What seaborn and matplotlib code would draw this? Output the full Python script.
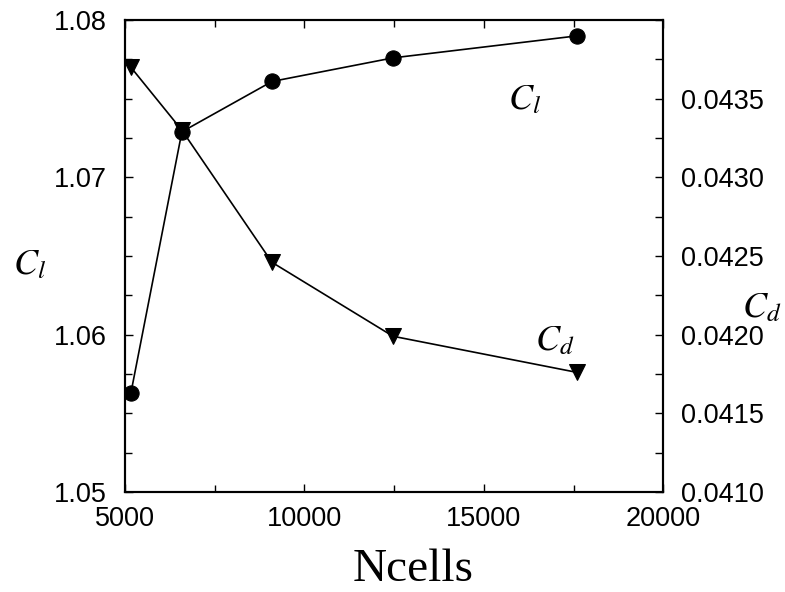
import matplotlib
matplotlib.use("Agg")
import matplotlib.pyplot as plt
import seaborn as sns
import pandas as pd
from matplotlib.ticker import MultipleLocator, FormatStrFormatter, FuncFormatter

ncells = [5170, 6590, 9100, 12470, 17600]
cl_values = [1.0563, 1.0729, 1.0761, 1.0776, 1.0790]
cd_values = [0.04370, 0.04330, 0.04246, 0.04199, 0.04176]

df = pd.DataFrame({"Ncells": ncells, "Cl": cl_values, "Cd": cd_values})

sns.set_theme(style="ticks")
plt.rcParams["font.family"] = ["Liberation Sans", "DejaVu Sans"]
plt.rcParams["mathtext.fontset"] = "stix"
for k in ("text.color", "axes.labelcolor", "xtick.color", "ytick.color", "axes.edgecolor"):
    plt.rcParams[k] = "black"

fig = plt.figure(figsize=(7.85, 5.92), dpi=100)
ax = fig.add_axes([0.159, 0.169, 0.686, 0.797])
ax2 = ax.twinx()

sns.lineplot(data=df, x="Ncells", y="Cl", ax=ax, color="black", linewidth=1.2,
             marker="o", markersize=11, markeredgecolor="black", markerfacecolor="black")
sns.lineplot(data=df, x="Ncells", y="Cd", ax=ax2, color="black", linewidth=1.2,
             marker="v", markersize=11, markeredgecolor="black", markerfacecolor="black")

ax.set_xlim(5000, 20000)
ax.set_ylim(1.05, 1.08)
ax2.set_ylim(0.041, 0.044)

ax.xaxis.set_major_locator(MultipleLocator(5000))
ax.xaxis.set_minor_locator(MultipleLocator(2500))
ax.yaxis.set_major_locator(MultipleLocator(0.01))
ax.yaxis.set_minor_locator(MultipleLocator(0.0025))
ax.yaxis.set_major_formatter(FormatStrFormatter("%.2f"))
ax2.yaxis.set_major_locator(MultipleLocator(0.0005))
ax2.yaxis.set_minor_locator(MultipleLocator(0.00025))
ax2.yaxis.set_major_formatter(FuncFormatter(lambda v, p: "" if v > 0.04395 else f"{v:.4f}"))

for a in (ax, ax2):
    for s in a.spines.values():
        s.set_linewidth(1.5)
        s.set_color("black")
ax.tick_params(axis="x", which="both", direction="in", top=True, labelsize=19.5, pad=10, colors="black")
ax.tick_params(axis="y", which="both", direction="in", left=True, right=False, labelsize=19.5, pad=13, colors="black")
ax.tick_params(which="major", length=6, width=1)
ax.tick_params(which="minor", length=5, width=1)
ax2.tick_params(axis="y", which="both", direction="in", right=True, labelsize=19.5, pad=13, colors="black")
ax2.tick_params(which="major", length=6, width=1)
ax2.tick_params(which="minor", length=6, width=1)

ax.set_xlabel("Ncells", fontsize=34, family=["Liberation Serif"], color="black")
ax.xaxis.set_label_coords(0.535, -0.189)
ax.xaxis.label.set_va("baseline")
ax.set_ylabel("")
ax2.set_ylabel("")

fig.text(0.038, 0.553, r"$C_l$", fontsize=26, ha="center", va="center")
fig.text(0.970, 0.480, r"$C_d$", fontsize=26, ha="center", va="center")
fig.text(0.668, 0.832, r"$C_l$", fontsize=26, ha="center", va="center")
fig.text(0.706, 0.424, r"$C_d$", fontsize=26, ha="center", va="center")

fig.savefig("out.png", dpi=100)
